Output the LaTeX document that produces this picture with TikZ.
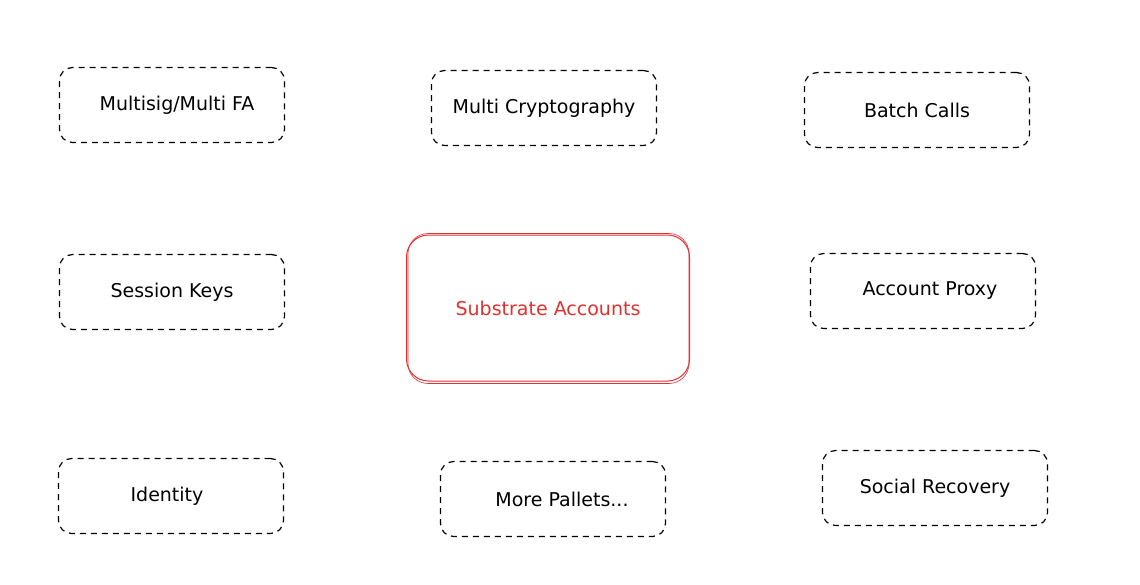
\documentclass[tikz,border=0pt]{standalone}
\usepackage{fontspec}
\setmainfont{DejaVu Sans}
\definecolor{accred}{HTML}{E03131}
\begin{document}
\begin{tikzpicture}[x=1pt,y=-1pt,
  pallet/.style={draw=black,line width=1.2pt,dash pattern=on 6pt off 5pt,rounded corners=13pt,
    minimum width=225pt,minimum height=75pt,font=\fontsize{19}{22}\selectfont,text=black},
  core/.style={draw=accred,line width=1pt,rounded corners=22pt,
    minimum width=283pt,minimum height=146pt,font=\fontsize{19}{22}\selectfont,text=accred}]
\useasboundingbox (0,0) rectangle (1140,584);
\fill[white] (0,0) rectangle (1140,584);
\node[pallet] (multisig) at (172,105) {\hspace{10pt}Multisig/Multi FA};
\node[pallet] (crypto) at (544,108) {Multi Cryptography};
\node[pallet] (batch) at (917,110) {\raisebox{-6pt}{Batch Calls}\hspace{8pt}};
\node[pallet] (session) at (172,292) {\raisebox{-6pt}{Session Keys}};
\node[core] (accounts) at (548,308) {Substrate Accounts};
\draw[accred,line width=0.6pt,rounded corners=20pt]
  ([shift={(2,-1)}]accounts.north west) rectangle ([shift={(-1,2)}]accounts.south east);
\node[pallet] (proxy) at (923,291) {\raisebox{-6pt}{\hspace{14pt}Account Proxy}};
\node[pallet] (identity) at (171,496) {\raisebox{-6pt}{Identity\hspace{8pt}}};
\node[pallet] (more) at (553,499) {\raisebox{-6pt}{\hspace{18pt}More Pallets...}};
\node[pallet] (social) at (935,488) {\raisebox{-6pt}{Social Recovery}};
\end{tikzpicture}
\end{document}
